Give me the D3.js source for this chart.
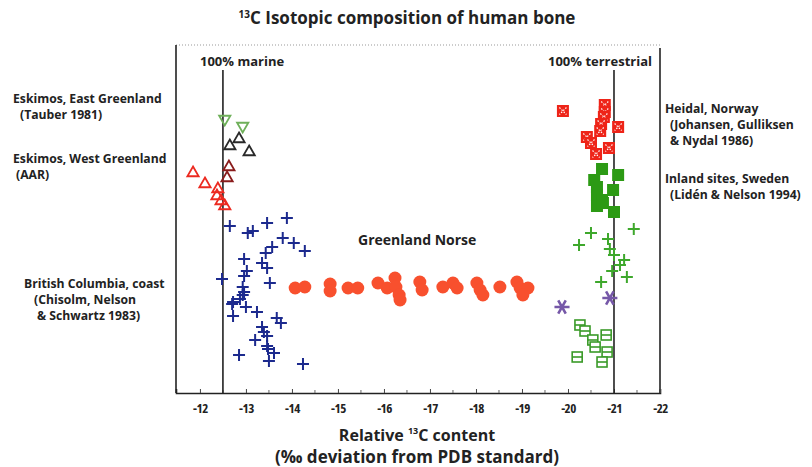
<!DOCTYPE html>
<html>
<head>
<meta charset="utf-8">
<script src="https://cdn.jsdelivr.net/npm/d3@7"></script>
<style>
  body { margin: 0; background: #fff; }
  text { font-family: "Open Sans", sans-serif; font-weight: 700; fill: #222; }
</style>
</head>
<body>
<div id="chart"></div>
<script>
// valores: [δ13C, posición vertical (desde arriba, unidades arbitrarias)]
const eastGreenland = [[-12.54, 74], [-12.93, 81]];
const westGreenlandBlack = [[-12.65, 101], [-12.85, 94], [-13.07, 107]];
const westGreenlandBrown = [[-12.63, 122], [-12.59, 133]];
const westGreenlandRed = [[-11.85, 128], [-12.11, 139], [-12.39, 144], [-12.37, 151], [-12.46, 156], [-12.54, 161]];
const britishColumbia = [
  [-12.65, 181], [-13.04, 188], [-13.15, 186], [-13.46, 178], [-13.89, 173], [-13.80, 193],
  [-14.04, 198], [-14.28, 206], [-13.57, 202], [-13.43, 208], [-12.96, 214], [-13.35, 218],
  [-13.46, 223], [-13.02, 226], [-12.96, 231], [-12.48, 234], [-13.52, 238], [-12.93, 242],
  [-12.96, 247], [-12.93, 250], [-12.87, 254], [-12.72, 257], [-12.70, 259], [-13.00, 262],
  [-13.24, 267], [-12.72, 271], [-13.67, 273], [-13.76, 278], [-13.35, 282], [-13.39, 287],
  [-13.46, 291], [-13.20, 295], [-13.46, 301], [-13.48, 304], [-13.61, 308], [-12.85, 310],
  [-13.50, 316], [-14.24, 319]
];
const greenlandNorse = [
  [-14.07, 243], [-14.28, 242], [-14.83, 239], [-14.83, 246], [-15.22, 243], [-15.43, 243],
  [-15.87, 238], [-16.07, 243], [-16.24, 233], [-16.26, 242], [-16.33, 250], [-16.35, 255],
  [-16.78, 237], [-16.83, 245], [-17.28, 242], [-17.50, 238], [-17.59, 243], [-18.02, 238],
  [-18.09, 245], [-18.15, 250], [-18.52, 242], [-18.89, 237], [-18.96, 243], [-19.13, 243],
  [-19.02, 250]
];
const heidal = [
  [-19.89, 66], [-20.80, 60], [-20.80, 67], [-20.78, 72], [-20.72, 79], [-21.09, 82],
  [-20.70, 86], [-20.41, 92], [-20.50, 98], [-20.61, 109], [-20.89, 103]
];
const swedenInland = [
  [-20.74, 124], [-21.09, 130], [-20.57, 135], [-20.63, 142], [-20.98, 145], [-20.63, 150],
  [-20.74, 155], [-20.63, 161], [-20.76, 158], [-21.00, 167]
];
const greenCrosses = [
  [-21.43, 184], [-20.50, 188], [-20.24, 200], [-20.87, 194], [-20.91, 204], [-21.00, 210],
  [-21.22, 215], [-21.13, 220], [-20.96, 226], [-21.28, 232], [-20.72, 237]
];
const purpleStars = [[-19.87, 262], [-20.91, 253]];
const openSquares = [
  [-20.26, 280], [-20.37, 286], [-20.54, 295], [-20.83, 290], [-20.59, 302], [-20.85, 307],
  [-20.74, 317], [-20.20, 312]
];
const refLines = [{ v: -12.5, label: "100% marine" }, { v: -21, label: "100% terrestrial" }];
const xTicks = [-12, -13, -14, -15, -16, -17, -18, -19, -20, -21, -22];

const W = 812, H = 467;
const svg = d3.select("#chart").append("svg")
  .attr("width", W).attr("height", H);

const x = d3.scaleLinear().domain([-11.48, -22]).range([176, 660]);
const y = d3.scaleLinear().domain([0, 348]).range([45, 393]);

// Marco
svg.append("line").attr("x1", 176).attr("x2", 660).attr("y1", 45).attr("y2", 45)
  .attr("stroke", "#999").attr("stroke-dasharray", "1,2").attr("stroke-width", 1);
svg.append("line").attr("x1", 176).attr("x2", 176).attr("y1", 45).attr("y2", 393)
  .attr("stroke", "#222").attr("stroke-width", 1.6);
svg.append("line").attr("x1", 660).attr("x2", 660).attr("y1", 48).attr("y2", 393)
  .attr("stroke", "#222").attr("stroke-width", 1.6);

// Eje x
const axis = svg.append("g").attr("transform", "translate(0,393)")
  .call(d3.axisBottom(x).tickValues(xTicks).tickSize(-4).tickPadding(11)
    .tickFormat(d => String(d).replace("\u2212", "-")));
axis.select(".domain").attr("stroke", "#222").attr("stroke-width", 1.6);
axis.selectAll(".tick line").attr("stroke", "#444");
axis.selectAll(".tick text").attr("font-size", 13).attr("fill", "#222")
  .attr("font-family", "Open Sans").attr("font-weight", 700)
  .style("font-stretch", "80%").attr("letter-spacing", -0.5);
svg.append("g").selectAll("line").data(d3.range(-12.5, -21.6, -0.5).filter(d => d % 1 !== 0))
  .join("line")
  .attr("x1", d => x(d)).attr("x2", d => x(d)).attr("y1", 393).attr("y2", 390)
  .attr("stroke", "#666");

// Líneas de referencia
refLines.forEach(r => {
  svg.append("line").attr("x1", x(r.v)).attr("x2", x(r.v)).attr("y1", 70).attr("y2", 393)
    .attr("stroke", "#222").attr("stroke-width", 1.6);
});
svg.append("text").attr("x", 200).attr("y", 66).attr("font-size", 13).text("100% marine");
svg.append("text").attr("x", 548).attr("y", 66).attr("font-size", 13).text("100% terrestrial");

// Títulos
const title = svg.append("text").attr("x", 407).attr("y", 24).attr("text-anchor", "middle")
  .attr("font-size", 17);
title.append("tspan").attr("font-size", 10).attr("dy", -6).text("13");
title.append("tspan").attr("dy", 6).text("C Isotopic composition of human bone");

const xt = svg.append("text").attr("x", 417).attr("y", 441).attr("text-anchor", "middle")
  .attr("font-size", 16);
xt.append("tspan").text("Relative ");
xt.append("tspan").attr("font-size", 9).attr("dy", -7).text("13");
xt.append("tspan").attr("dy", 7).text("C content");
svg.append("text").attr("x", 417).attr("y", 463).attr("text-anchor", "middle")
  .attr("font-size", 17).text("(\u2030 deviation from PDB standard)");

// Etiquetas de grupos
const labels = [
  { x: 13, y: 103, t: "Eskimos, East Greenland" },
  { x: 20, y: 119, t: "(Tauber 1981)" },
  { x: 13, y: 163, t: "Eskimos, West Greenland" },
  { x: 16, y: 179, t: "(AAR)" },
  { x: 24, y: 288, t: "British Columbia, coast" },
  { x: 34, y: 304, t: "(Chisolm, Nelson" },
  { x: 37, y: 320, t: "& Schwartz 1983)" },
  { x: 665, y: 113, t: "Heidal, Norway" },
  { x: 670, y: 129, t: "(Johansen, Gulliksen" },
  { x: 670, y: 145, t: "& Nydal 1986)" },
  { x: 665, y: 183, t: "Inland sites, Sweden" },
  { x: 670, y: 199, t: "(Lidén & Nelson 1994)" },
  { x: 358, y: 245, t: "Greenland Norse", s: 14 }
];
svg.append("g").selectAll("text").data(labels).join("text")
  .attr("x", d => d.x).attr("y", d => d.y).attr("font-size", d => d.s || 12.2).text(d => d.t);

// Marcadores
const tri = d3.symbol().type(d3.symbolTriangle).size(55);
function triangles(data, color, flip) {
  svg.append("g").selectAll("path").data(data).join("path")
    .attr("d", tri)
    .attr("transform", d => `translate(${x(d[0])},${y(d[1])})` + (flip ? " rotate(180)" : ""))
    .attr("fill", "none").attr("stroke", color).attr("stroke-width", 1.8);
}
triangles(eastGreenland, "#6fb05a", true);
triangles(westGreenlandBlack, "#2a2a2a", false);
triangles(westGreenlandBrown, "#8a1c1c", false);
triangles(westGreenlandRed, "#ec2a20", false);

function crosses(data, color, s) {
  svg.append("g").selectAll("path").data(data).join("path")
    .attr("d", `M${-s},0H${s}M0,${-s}V${s}`)
    .attr("transform", d => `translate(${x(d[0])},${y(d[1])})`)
    .attr("fill", "none").attr("stroke", color).attr("stroke-width", 2);
}
crosses(britishColumbia, "#1c2a8e", 6);
crosses(greenCrosses, "#3ea82c", 6);

svg.append("g").selectAll("circle").data(greenlandNorse).join("circle")
  .attr("cx", d => x(d[0])).attr("cy", d => y(d[1])).attr("r", 6.5)
  .attr("fill", "#f8502e");

// Cuadrados rojos con aspa punteada
const hg = svg.append("g").selectAll("g").data(heidal).join("g")
  .attr("transform", d => `translate(${x(d[0])},${y(d[1])})`);
hg.append("rect").attr("x", -6).attr("y", -6).attr("width", 12).attr("height", 12).attr("fill", "#ee2418");
hg.append("path").attr("d", "M-3.5,-3.5L3.5,3.5M3.5,-3.5L-3.5,3.5")
  .attr("stroke", "#fff").attr("stroke-width", 1.2).attr("stroke-dasharray", "1.5,1.5");

svg.append("g").selectAll("rect").data(swedenInland).join("rect")
  .attr("x", d => x(d[0]) - 6).attr("y", d => y(d[1]) - 6).attr("width", 12).attr("height", 12)
  .attr("fill", "#2c9a14");

svg.append("g").selectAll("path").data(purpleStars).join("path")
  .attr("d", d3.symbol().type(d3.symbolAsterisk).size(160))
  .attr("transform", d => `translate(${x(d[0])},${y(d[1])}) rotate(30)`)
  .attr("fill", "none").attr("stroke", "#7658a8").attr("stroke-width", 2.6);

const og = svg.append("g").selectAll("g").data(openSquares).join("g")
  .attr("transform", d => `translate(${x(d[0])},${y(d[1])})`);
og.append("rect").attr("x", -5).attr("y", -5).attr("width", 10).attr("height", 10)
  .attr("fill", "#fff").attr("stroke", "#3a9a28").attr("stroke-width", 1.6);
og.append("line").attr("x1", -5).attr("x2", 5).attr("y1", 0).attr("y2", 0)
  .attr("stroke", "#3a9a28").attr("stroke-width", 1.6);
</script>
</body>
</html>
